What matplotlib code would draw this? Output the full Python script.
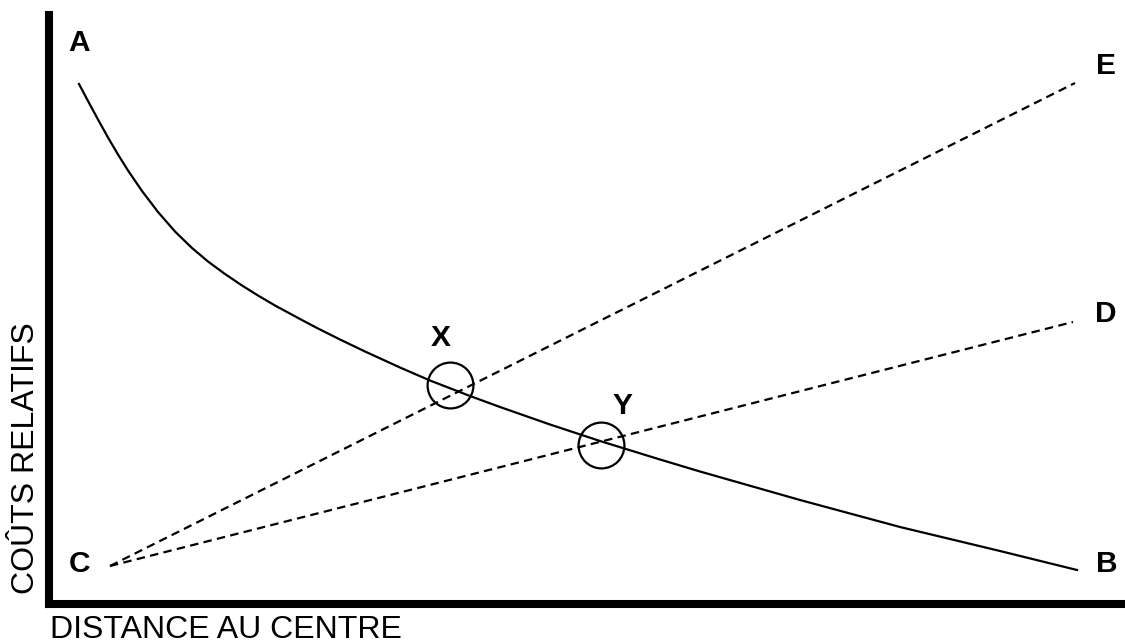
import matplotlib
matplotlib.use("Agg")
import matplotlib.pyplot as plt

plt.rcParams['font.family'] = ['Liberation Sans', 'DejaVu Sans']

# Data (schematic units)
curve_x = [30, 39, 49, 59, 69, 79, 93, 109, 126, 143, 159, 176, 193, 209, 226, 251,
           269, 291, 316, 351, 381, 421, 451, 501, 551, 611, 651, 751, 851, 951, 1028]
curve_y = [520, 503, 484.5, 466.5, 449.5, 433.5, 413, 392, 372.5, 356, 342.5, 330,
           318.5, 308.5, 298.5, 285, 275.5, 264.5, 252.5, 236.5, 223.5, 208, 197,
           179.5, 163, 144.5, 132.5, 104, 77, 53, 34]
line_ce_x = [61, 1026]
line_ce_y = [38, 521]
line_cd_x = [61, 1024]
line_cd_y = [38, 282]
circle_x = [401, 552]
circle_y = [219, 159]
point_labels = ['A', 'B', 'C', 'D', 'E', 'X', 'Y']
label_x = [30, 1058, 30, 1057, 1057, 392, 573]
label_y = [561, 40, 40, 290, 538, 266, 198]
xlabel = "DISTANCE AU CENTRE"
ylabel = "COÛTS RELATIFS"

W, H = 1125, 644
fig = plt.figure(figsize=(W / 100, H / 100), dpi=100)
L, R, B, T = 49, 1125, 604, 15
ax = fig.add_axes([L / W, (H - B) / H, (R - L) / W, (B - T) / H])
ax.set_xlim(0, R - L)
ax.set_ylim(0, B - T)

ax.plot(curve_x, curve_y, color='black', lw=1.6, solid_joinstyle='round')
ax.plot(line_ce_x, line_ce_y, color='black', lw=1.6, linestyle=(0, (3.8, 2.4)))
ax.plot(line_cd_x, line_cd_y, color='black', lw=1.6, linestyle=(0, (3.8, 2.4)))
ax.plot(circle_x, circle_y, linestyle='none', marker='o', markersize=33,
        markerfacecolor='none', markeredgecolor='black', markeredgewidth=1.6)

for t, x, y in zip(point_labels, label_x, label_y):
    ax.text(x, y, t, fontsize=21.5, fontweight='bold', ha='center', va='center',
            clip_on=False)

for s in ['top', 'right']:
    ax.spines[s].set_visible(False)
for s in ['left', 'bottom']:
    ax.spines[s].set_linewidth(5.8)
    ax.spines[s].set_capstyle('projecting')
ax.set_xticks([])
ax.set_yticks([])

fig.text(50 / W, (H - 638) / H, xlabel, fontsize=23, ha='left', va='baseline')
fig.text(34 / W, (H - 594) / H, ylabel, fontsize=23, rotation=90,
         rotation_mode='anchor', ha='left', va='baseline')

fig.savefig('out.png', dpi=100)
